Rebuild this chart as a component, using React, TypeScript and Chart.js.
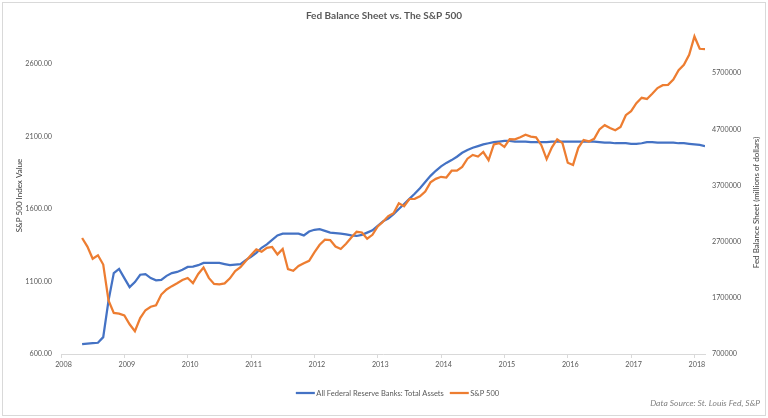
import React, { useEffect, useRef } from "react";
import { Chart, registerables } from "chart.js";

Chart.register(...registerables);

// ---------- data ----------
const TITLE = "Fed Balance Sheet vs. The S&P 500";
const FED_LABEL = "All Federal Reserve Banks: Total Assets";
const SP_LABEL = "S&P 500";
const LEFT_AXIS_TITLE = "S&P 500 Index Value";
const RIGHT_AXIS_TITLE = "Fed Balance Sheet (millions of dollars)";
const SOURCE_TEXT = "Data Source: St. Louis Fed, S&P";

const FIRST_YEAR = 2008;
const FIRST_MONTH = 5; // May 2008
const MONTH_COUNT = 119; // May 2008 .. Mar 2018

const YEAR_TICKS = [2008, 2009, 2010, 2011, 2012, 2013, 2014, 2015, 2016, 2017, 2018];
const SP_TICKS = [600, 1100, 1600, 2100, 2600];
const FED_TICKS = [700000, 1700000, 2700000, 3700000, 4700000, 5700000];

// S&P 500 (monthly)
const sp500 = [
  // 2008 May-Dec
  1400, 1341, 1257, 1281, 1217, 969, 883, 878,
  // 2009
  866, 805, 757, 848, 902, 926, 936, 1010, 1045, 1068, 1088, 1110,
  // 2010
  1124, 1089, 1152, 1197, 1125, 1083, 1080, 1087, 1122, 1172, 1199, 1242,
  // 2011
  1283, 1321, 1305, 1332, 1338, 1287, 1325, 1185, 1174, 1207, 1226, 1243,
  // 2012
  1301, 1353, 1389, 1386, 1341, 1324, 1360, 1403, 1443, 1438, 1395, 1422,
  // 2013
  1480, 1512, 1551, 1571, 1640, 1619, 1669, 1670, 1687, 1720, 1784, 1808,
  // 2014
  1822, 1817, 1864, 1864, 1890, 1947, 1973, 1962, 1993, 1937, 2045, 2054,
  // 2015
  2028, 2082, 2080, 2095, 2112, 2099, 2094, 2040, 1944, 2025, 2081, 2054,
  // 2016
  1919, 1904, 2022, 2076, 2066, 2084, 2149, 2178, 2158, 2143, 2165, 2247,
  // 2017
  2275, 2330, 2367, 2359, 2395, 2434, 2454, 2456, 2493, 2557, 2594, 2664,
  // 2018 Jan-Mar
  2790, 2705, 2703,
];

// Fed total assets (millions of dollars, monthly)
const fedAssets = [
  // 2008 May-Dec
  875000, 885000, 893000, 900000, 1000000, 1650000, 2140000, 2215000,
  // 2009
  2050000, 1890000, 1980000, 2110000, 2120000, 2050000, 2010000, 2020000, 2090000, 2140000, 2160000, 2200000,
  // 2010
  2250000, 2255000, 2280000, 2320000, 2320000, 2320000, 2320000, 2300000, 2280000, 2290000, 2300000, 2370000,
  // 2011
  2430000, 2500000, 2590000, 2650000, 2730000, 2810000, 2840000, 2840000, 2840000, 2840000, 2810000, 2880000,
  // 2012
  2910000, 2920000, 2890000, 2860000, 2850000, 2840000, 2830000, 2810000, 2800000, 2820000, 2860000, 2900000,
  // 2013
  2980000, 3060000, 3110000, 3190000, 3280000, 3370000, 3460000, 3550000, 3650000, 3760000, 3870000, 3960000,
  // 2014
  4040000, 4100000, 4150000, 4210000, 4280000, 4330000, 4370000, 4400000, 4430000, 4450000, 4470000, 4480000,
  // 2015
  4490000, 4490000, 4480000, 4480000, 4480000, 4470000, 4470000, 4470000, 4470000, 4480000, 4480000, 4480000,
  // 2016
  4480000, 4480000, 4480000, 4480000, 4480000, 4480000, 4470000, 4460000, 4460000, 4450000, 4450000, 4450000,
  // 2017
  4440000, 4440000, 4450000, 4470000, 4470000, 4460000, 4460000, 4460000, 4460000, 4450000, 4450000, 4440000,
  // 2018 Jan-Mar
  4430000, 4420000, 4400000,
];

// month positions (fractional years) for the categories
const monthPositions: number[] = [];
for (let i = 0; i < MONTH_COUNT; i++) {
  const m = FIRST_MONTH - 1 + i;
  monthPositions.push(FIRST_YEAR + Math.floor(m / 12) + (m % 12) / 12);
}

// ---------- style ----------
const BLUE = "#4472C4";
const ORANGE = "#ED7D31";
const TICK_COLOR = "#595959";
const AXIS_TITLE_COLOR = "#404040";
const LINE_GRAY = "#d9d9d9";
const FONT = "Lato";
const TICK_SIZE = 7.2;

const backgroundPlugin = {
  id: "bgFrame",
  beforeDraw(chart: any) {
    const { ctx, width, height } = chart;
    ctx.save();
    ctx.fillStyle = "#ffffff";
    ctx.fillRect(0, 0, width, height);
    ctx.strokeStyle = LINE_GRAY;
    ctx.lineWidth = 1;
    ctx.strokeRect(2.5, 2.5, width - 5, height - 5);
    ctx.restore();
  },
};

const textPlugin = {
  id: "customTexts",
  afterDraw(chart: any) {
    const { ctx } = chart;
    ctx.save();

    // axis titles (both read bottom-to-top)
    ctx.font = `8px ${FONT}`;
    ctx.fillStyle = AXIS_TITLE_COLOR;
    ctx.textAlign = "center";
    ctx.textBaseline = "middle";
    ctx.save();
    ctx.translate(19.5, 195.5);
    ctx.rotate(-Math.PI / 2);
    ctx.fillText(LEFT_AXIS_TITLE, 0, 0);
    ctx.restore();
    ctx.save();
    ctx.translate(756.5, 202.5);
    ctx.rotate(-Math.PI / 2);
    ctx.fillText(RIGHT_AXIS_TITLE, 0, 0);
    ctx.restore();

    // legend
    ctx.font = `7.5px ${FONT}`;
    ctx.textBaseline = "middle";
    ctx.textAlign = "left";
    const ds = chart.data.datasets;
    const lineW = 19;
    const gap = 1.5;
    const itemGap = 6;
    const widths = ds.map((d: any) => ctx.measureText(d.label).width);
    const total = widths.reduce((a: number, w: number) => a + lineW + gap + w, 0) + itemGap * (ds.length - 1);
    let x = 397.5 - total / 2;
    const y = 393;
    ds.forEach((d: any, i: number) => {
      ctx.strokeStyle = d.borderColor;
      ctx.lineWidth = 2.25;
      ctx.beginPath();
      ctx.moveTo(x, y);
      ctx.lineTo(x + lineW, y);
      ctx.stroke();
      x += lineW + gap;
      ctx.fillStyle = TICK_COLOR;
      ctx.fillText(d.label, x, y + 0.5);
      x += widths[i] + itemGap;
    });

    // data source
    ctx.font = `italic 8.5px ${FONT}`;
    ctx.textAlign = "right";
    ctx.fillStyle = "#7f7f7f";
    ctx.fillText(SOURCE_TEXT, 760, 403);
    ctx.restore();
  },
};

export default function App() {
  const canvasRef = useRef<HTMLCanvasElement | null>(null);

  useEffect(() => {
    if (!canvasRef.current) return;
    const chart = new Chart(canvasRef.current, {
      type: "line",
      data: {
        datasets: [
          {
            label: FED_LABEL,
            data: monthPositions.map((x, i) => ({ x, y: fedAssets[i] })),
            borderColor: BLUE,
            backgroundColor: BLUE,
            borderWidth: 2.25,
            pointRadius: 0,
            tension: 0,
            yAxisID: "yFed",
            order: 2,
          },
          {
            label: SP_LABEL,
            data: monthPositions.map((x, i) => ({ x, y: sp500[i] })),
            borderColor: ORANGE,
            backgroundColor: ORANGE,
            borderWidth: 2.25,
            pointRadius: 0,
            tension: 0,
            yAxisID: "ySP",
            order: 1,
          },
        ],
      },
      options: {
        animation: false,
        responsive: false,
        maintainAspectRatio: false,
        layout: { padding: { left: 0, right: 0, top: 0, bottom: 40 } },
        plugins: {
          legend: { display: false },
          tooltip: { enabled: false },
          title: {
            display: true,
            text: TITLE,
            color: TICK_COLOR,
            font: { family: FONT, size: 10, weight: "bold" },
            padding: { top: 10, bottom: 8 },
          },
        },
        scales: {
          x: {
            type: "linear",
            min: 2008,
            max: 2018 + 2 / 12,
            afterBuildTicks: (s: any) => {
              s.ticks = YEAR_TICKS.map((v) => ({ value: v }));
            },
            afterFit: (s: any) => {
              s.height = 24;
            },
            grid: {
              display: true,
              drawOnChartArea: false,
              drawTicks: true,
              tickLength: 4,
              color: LINE_GRAY,
            },
            border: { display: true, color: LINE_GRAY, width: 1 },
            ticks: {
              color: TICK_COLOR,
              font: { family: FONT, size: TICK_SIZE },
              padding: 2,
              labelOffset: 2.5,
              maxRotation: 0,
              autoSkip: false,
              callback: (v: any) => String(v),
            },
          },
          ySP: {
            type: "linear",
            position: "left",
            min: 600,
            max: 2834.5,
            afterBuildTicks: (s: any) => {
              s.ticks = SP_TICKS.map((v) => ({ value: v }));
            },
            afterFit: (s: any) => {
              s.width = 61;
            },
            grid: { display: false, drawTicks: false },
            border: { display: false },
            ticks: {
              color: TICK_COLOR,
              font: { family: FONT, size: TICK_SIZE },
              padding: 9,
              callback: (v: any) => Number(v).toFixed(2),
            },
          },
          yFed: {
            type: "linear",
            position: "right",
            min: 700000,
            max: 6465000,
            afterBuildTicks: (s: any) => {
              s.ticks = FED_TICKS.map((v) => ({ value: v }));
            },
            afterFit: (s: any) => {
              s.width = 63;
            },
            grid: { display: false, drawTicks: false },
            border: { display: false },
            ticks: {
              color: TICK_COLOR,
              font: { family: FONT, size: TICK_SIZE },
              padding: 7,
              callback: (v: any) => String(v),
            },
          },
        },
      },
      plugins: [backgroundPlugin, textPlugin],
    } as any);
    return () => chart.destroy();
  }, []);

  return (
    <div style={{ position: "absolute", left: 0, top: 0, width: 768, height: 418, background: "#fff" }}>
      <canvas ref={canvasRef} width={768} height={418} style={{ display: "block" }} />
    </div>
  );
}
